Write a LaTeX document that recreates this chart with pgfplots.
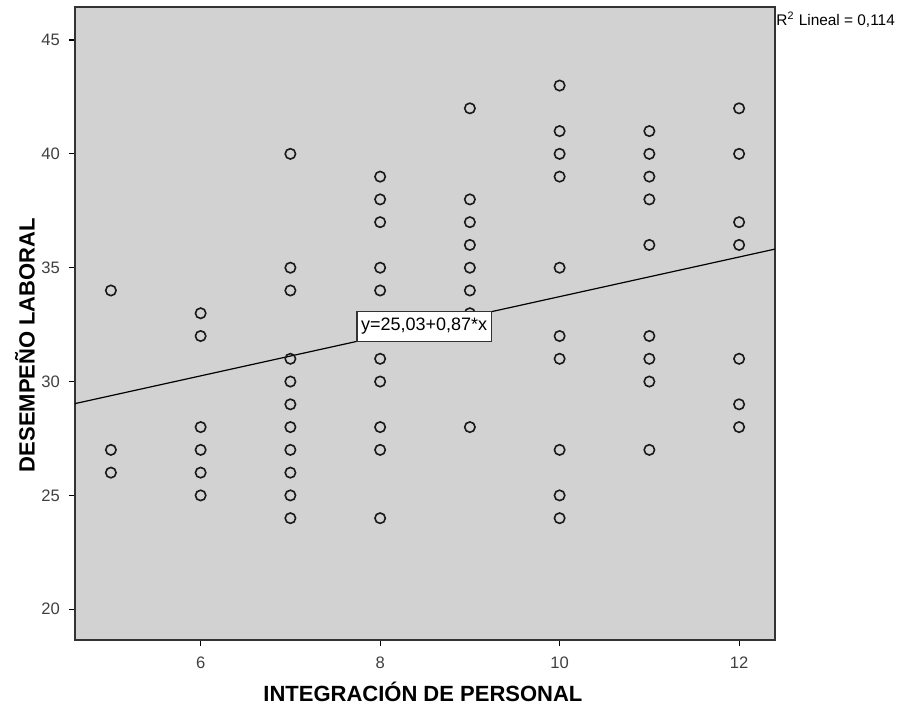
\documentclass[border=0pt]{standalone}
\usepackage{pgfplots}
\pgfplotsset{compat=1.18}
\usepackage{fontspec}
\setmainfont{Liberation Sans}
\definecolor{bg}{RGB}{210,210,210}
\begin{document}
\begin{tikzpicture}
\begin{axis}[
  scale only axis,
  width=350pt, height=316.5pt,
  xmin=4.6, xmax=12.4, ymin=18.65, ymax=46.45,
  xtick={6,8,10,12}, ytick={20,25,30,35,40,45},
  axis background/.style={fill=bg},
  axis line style={black!80, line width=0.6pt},
  tick align=outside, tick pos=left,
  major tick length=3pt,
  tick style={black, line width=0.6pt},
  /pgf/number format/assume math mode=true,
  tick label style={font=\fontsize{8.3}{10}\selectfont, text=black!75},
  xticklabel style={yshift=-2pt},
  yticklabel style={xshift=-1pt},
  xlabel={\textbf{INTEGRACIÓN DE PERSONAL}},
  ylabel={\textbf{DESEMPEÑO LABORAL}},
  xlabel style={at={(axis description cs:0.497,0)}, anchor=center, yshift=-26pt, font=\fontsize{11}{13}\selectfont},
  ylabel style={at={(axis description cs:0,0.466)}, anchor=center, xshift=0pt, yshift=25pt, font=\fontsize{11}{13}\selectfont},
  clip=true,
]
\addplot[only marks, mark=o, mark size=2.6pt, mark options={line width=0.8pt, black!90}] coordinates {
(5,34) (5,27) (5,26)
(6,33) (6,32) (6,28) (6,27) (6,26) (6,25)
(7,40) (7,35) (7,34) (7,31) (7,30) (7,29) (7,28) (7,27) (7,26) (7,25) (7,24)
(8,39) (8,38) (8,37) (8,35) (8,34) (8,32) (8,31) (8,30) (8,28) (8,27) (8,24)
(9,42) (9,38) (9,37) (9,36) (9,35) (9,34) (9,33) (9,28)
(10,43) (10,41) (10,40) (10,39) (10,35) (10,32) (10,31) (10,27) (10,25) (10,24)
(11,41) (11,40) (11,39) (11,38) (11,36) (11,32) (11,31) (11,30) (11,27)
(12,42) (12,40) (12,37) (12,36) (12,31) (12,29) (12,28)
};
\addplot[black, line width=0.6pt] coordinates {(4.6,29.032) (12.4,35.818)};
\coordinate (lbl) at (axis cs:8.49,32.42);
\end{axis}
\node[draw=black!80, fill=white, inner xsep=2pt, inner ysep=3.6pt, line width=0.6pt, font=\fontsize{9}{11}\selectfont] at (lbl) {y=25,03+0,87*x};
\node[anchor=north west, inner sep=0pt, font=\fontsize{7.7}{9}\selectfont] at ([shift={(0.5pt,-2.5pt)}]current axis.north east) {R\textsuperscript{2} Lineal = 0,114};
\pgfresetboundingbox
\path ([shift={(-37.5pt,-33.5pt)}]current axis.south west) rectangle ([shift={(62pt,3.5pt)}]current axis.north east);
\end{tikzpicture}
\end{document}
